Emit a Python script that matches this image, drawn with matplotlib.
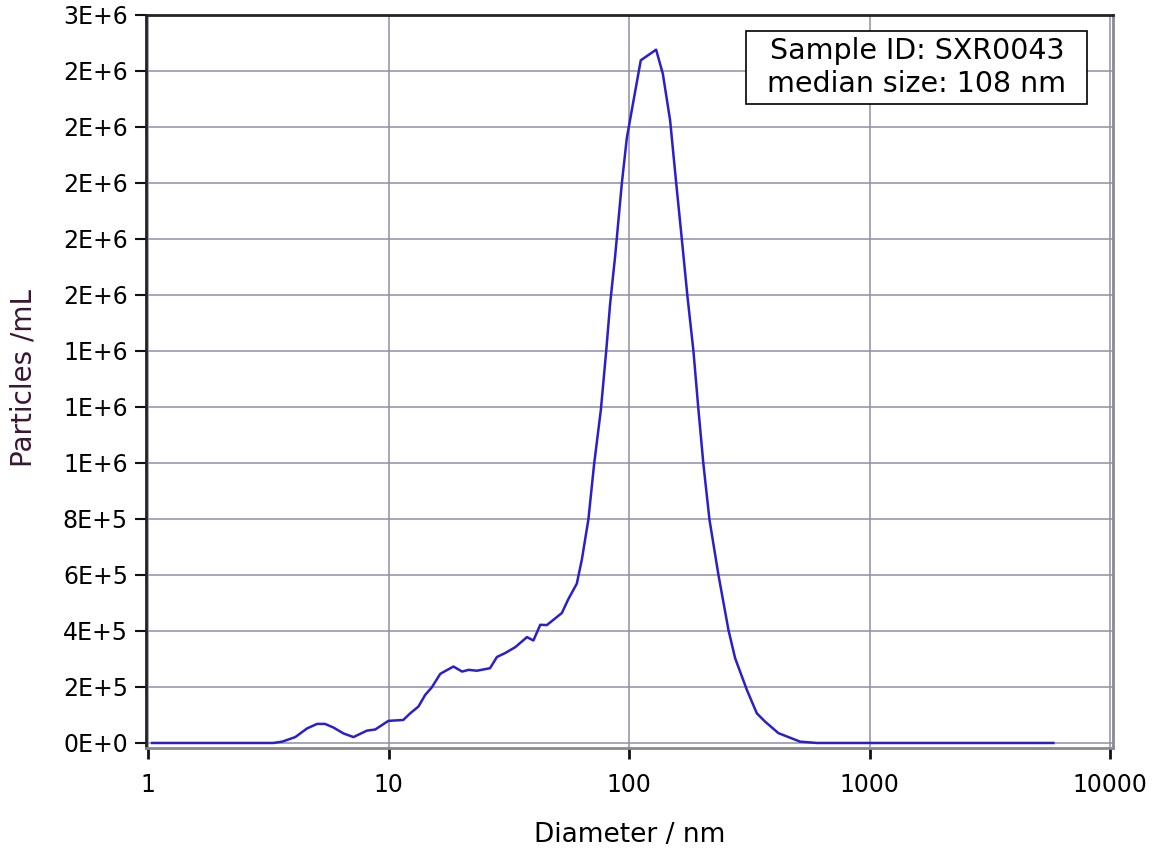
import numpy as np
import matplotlib
matplotlib.use('Agg')
import matplotlib.pyplot as plt
from matplotlib.ticker import FixedLocator, FuncFormatter
from matplotlib.patches import Rectangle

# particle size distribution
diameter_nm = [1.04, 3.31, 3.61, 4.09, 4.58, 5.04, 5.44, 5.90, 6.49, 7.14,
               8.12, 8.79, 9.98, 11.5, 12.3, 13.3, 14.2, 15.1, 16.4, 18.6,
               20.2, 21.5, 23.3, 26.4, 28.2, 30.5, 33.6, 37.6, 40.0, 42.7,
               45.5, 52.5, 55.9, 60.6, 63.6, 67.7, 71.5, 76.3, 80.3, 83.4,
               87.5, 93.3, 97.8, 102.6, 111.8, 129.5, 138.1, 148.1, 156.8, 165.6,
               174.8, 185.1, 194.2, 203.7, 215.8, 235.1, 258.8, 275.9, 308.6, 339.6,
               367.8, 417.8, 514, 603, 5812]
particles_per_ml = [0, 0, 4.7e3, 2.1e4, 5.2e4, 6.8e4, 6.8e4, 5.5e4, 3.4e4, 2.1e4,
                    4.4e4, 4.8e4, 7.9e4, 8.2e4, 1.06e5, 1.30e5, 1.72e5, 1.98e5, 2.47e5, 2.73e5,
                    2.55e5, 2.61e5, 2.58e5, 2.67e5, 3.07e5, 3.21e5, 3.42e5, 3.78e5, 3.66e5, 4.22e5,
                    4.21e5, 4.64e5, 5.14e5, 5.69e5, 6.55e5, 7.98e5, 9.95e5, 1.19e6, 1.40e6, 1.57e6,
                    1.74e6, 2.0e6, 2.16e6, 2.26e6, 2.438e6, 2.476e6, 2.39e6, 2.223e6, 2.003e6, 1.80e6,
                    1.595e6, 1.40e6, 1.19e6, 9.95e5, 7.98e5, 6.01e5, 4.04e5, 3.03e5, 1.90e5, 1.06e5,
                    7.6e4, 3.5e4, 4.7e3, 0, 0]

x_ticks = [1, 10, 100, 1000, 10000]
y_ticks = np.arange(0, 2.6e6 + 1, 2e5)

sample_id = 'SXR0043'
median_size = 108

fig = plt.figure(figsize=(11.61, 8.5), dpi=100)
ax = fig.add_axes([0.1258, 0.12, 0.833, 0.8624])

ax.plot(diameter_nm, particles_per_ml, color='#2a1fc8', lw=1.8, zorder=3)

ax.set_xscale('log')
ax.set_xlim(0.98, 10300)
ax.set_ylim(-1.8e4, 2.6e6)

ax.xaxis.set_major_locator(FixedLocator(x_ticks))
ax.xaxis.set_minor_locator(FixedLocator([]))
ax.xaxis.set_major_formatter(FuncFormatter(lambda v, p: '%d' % v))
ax.yaxis.set_major_locator(FixedLocator(y_ticks))


def sci_fmt(v, pos):
    s = '%.0E' % v
    mant, exp = s.split('E')
    return '%sE%s%d' % (mant, '+' if int(exp) >= 0 else '-', abs(int(exp)))


ax.yaxis.set_major_formatter(FuncFormatter(sci_fmt))

ax.grid(True, which='major', color='#8e8ea6', lw=1.1)
ax.set_axisbelow(True)

for side in ['left', 'top']:
    ax.spines[side].set_color('#222222')
    ax.spines[side].set_linewidth(2)
for side in ['right', 'bottom']:
    ax.spines[side].set_color('#8a8a8a')
    ax.spines[side].set_linewidth(2)

ax.tick_params(axis='x', length=8, width=2, labelsize=17, pad=10, color='#111111')
ax.tick_params(axis='y', length=8, width=1.5, labelsize=17, pad=5, color='#111111')

ax.set_xlabel('Diameter / nm', fontsize=19, labelpad=18)
ax.set_ylabel('Particles /mL', fontsize=20, color='#3a1632')
ax.yaxis.set_label_coords(-0.112, 0.505)

# annotation box
ax.add_patch(Rectangle((0.6205, 0.8786), 0.3526, 0.0996, transform=ax.transAxes,
                       facecolor='white', edgecolor='black', lw=1.2, zorder=5))
ax.text(0.797, 0.928, 'Sample ID: %s\nmedian size: %d nm' % (sample_id, median_size),
        transform=ax.transAxes, ha='center', va='center', fontsize=20.5,
        linespacing=1.25, zorder=6)

plt.savefig('out.png', dpi=100)
